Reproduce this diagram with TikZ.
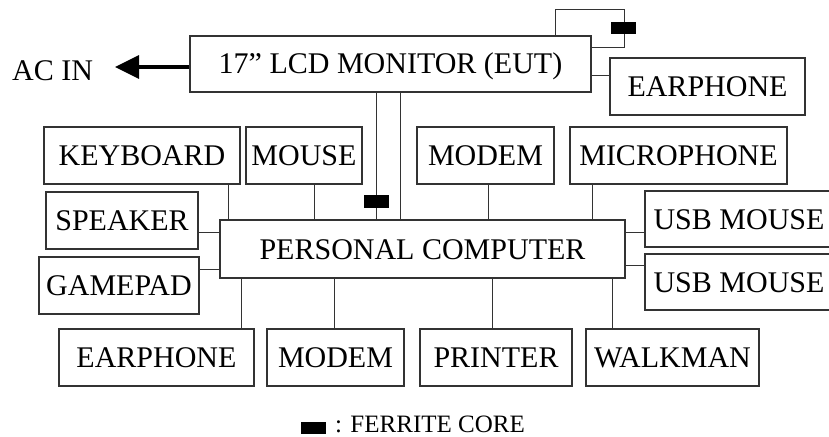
\documentclass[tikz,border=0pt]{standalone}
\usepackage{fontspec}
\setmainfont{Liberation Serif}
\usetikzlibrary{arrows.meta}
\begin{document}
\begin{tikzpicture}[x=1pt,y=-1pt,
  box/.style={draw=black!80, line width=1.1pt, inner sep=0pt,
    font=\fontsize{30}{36}\selectfont, text height=20pt, text depth=0pt},
  wire/.style={draw=black!80, line width=1pt},
  core/.style={fill=black, draw=none, inner sep=0pt, minimum width=25pt, minimum height=12.5pt},
  big/.style={font=\fontsize{30}{36}\selectfont, inner sep=0pt},
  small/.style={font=\fontsize{25}{29}\selectfont, inner sep=0pt}]
\clip (0,0) rectangle (829,436);
% boxes
\node[box, minimum width=401pt, minimum height=56pt] (mon) at (390.5,64) {17” LCD MONITOR (EUT)};
\node[box, minimum width=195pt, minimum height=57pt] (ear1) at (707.5,86.5) {EARPHONE};
\node[box, minimum width=196pt, minimum height=57pt] (kb) at (142,155.5) {KEYBOARD};
\node[box, minimum width=116pt, minimum height=57pt] (mouse) at (304,155.5) {MOUSE};
\node[box, minimum width=137pt, minimum height=57pt] (modt) at (485.5,155.5) {MODEM};
\node[box, minimum width=217pt, minimum height=57pt] (mic) at (678.5,155.5) {MICROPHONE};
\node[box, minimum width=152pt, minimum height=57pt] (spk) at (122,220.5) {SPEAKER};
\node[box, minimum width=160pt, minimum height=57pt] (gp) at (119,285.5) {GAMEPAD};
\node[box, minimum width=405pt, minimum height=58pt] (pc) at (422.5,249) {PERSONAL COMPUTER};
\node[box, minimum width=188pt, minimum height=56pt] (usb1) at (739,219) {USB MOUSE};
\node[box, minimum width=188pt, minimum height=56pt] (usb2) at (739,282) {USB MOUSE};
\node[box, minimum width=195pt, minimum height=57pt] (ear2) at (156.5,357.5) {EARPHONE};
\node[box, minimum width=137pt, minimum height=57pt] (modb) at (335.5,357.5) {MODEM};
\node[box, minimum width=152pt, minimum height=57pt] (prn) at (496,357.5) {PRINTER};
\node[box, minimum width=173pt, minimum height=57pt] (wlk) at (672.5,357.5) {WALKMAN};
% AC IN
\node[big, anchor=base west] (ac) at (12,80) {AC IN};
\coordinate (ya) at (0,67);
\coordinate (tip) at (115,67);
\draw[line width=3.5pt, -{Triangle[length=24pt,width=23pt]}] (mon.west |- ya) -- (tip);
% monitor loop with ferrite
\coordinate (lp1) at (555,10);
\coordinate (lp2) at (624,48);
\draw[wire] (mon.north -| lp1) -- (lp1) -| (lp2) -- (mon.east |- lp2);
\node[core] (c1) at (623.5,28) {};
% monitor to earphone
\coordinate (ye) at (0,75);
\draw[wire] (mon.east |- ye) -- (ear1.west |- ye);
% monitor to PC
\coordinate (xa) at (376,0);
\coordinate (xb) at (400,0);
\draw[wire] (mon.south -| xa) -- (pc.north -| xa);
\draw[wire] (mon.south -| xb) -- (pc.north -| xb);
\node[core] (c2) at (376.5,201.5) {};
% top row links
\coordinate (x1) at (228,0);
\coordinate (x2) at (314,0);
\coordinate (x3) at (488,0);
\coordinate (x4) at (592,0);
\draw[wire] (kb.south -| x1) -- (pc.north -| x1);
\draw[wire] (mouse.south -| x2) -- (pc.north -| x2);
\draw[wire] (modt.south -| x3) -- (pc.north -| x3);
\draw[wire] (mic.south -| x4) -- (pc.north -| x4);
% side links
\coordinate (y1) at (0,232);
\coordinate (y2) at (0,269);
\coordinate (y3) at (0,232);
\coordinate (y4) at (0,265);
\draw[wire] (spk.east |- y1) -- (pc.west |- y1);
\draw[wire] (gp.east |- y2) -- (pc.west |- y2);
\draw[wire] (pc.east |- y3) -- (usb1.west |- y3);
\draw[wire] (pc.east |- y4) -- (usb2.west |- y4);
% bottom row links
\coordinate (x5) at (241,0);
\coordinate (x6) at (334,0);
\coordinate (x7) at (492,0);
\coordinate (x8) at (612,0);
\draw[wire] (pc.south -| x5) -- (ear2.north -| x5);
\draw[wire] (pc.south -| x6) -- (modb.north -| x6);
\draw[wire] (pc.south -| x7) -- (prn.north -| x7);
\draw[wire] (pc.south -| x8) -- (wlk.north -| x8);
% legend
\node[core, minimum height=12pt] (leg) at (313.5,428) {};
\node[small, anchor=base west] (legt) at (335,432) {: FERRITE CORE};
\end{tikzpicture}
\end{document}
